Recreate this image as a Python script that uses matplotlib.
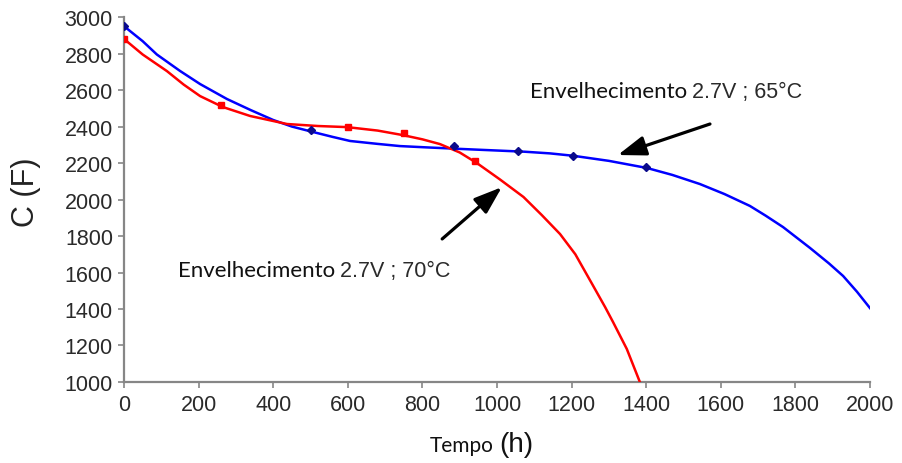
import matplotlib
matplotlib.use("Agg")
import matplotlib.pyplot as plt

# Measured points
blue_t = [0, 500, 885, 1055, 1205, 1400]
blue_c = [2950, 2380, 2295, 2268, 2238, 2180]
red_t = [0, 260, 600, 750, 940]
red_c = [2880, 2520, 2400, 2365, 2210]

# Trend curves
blue_curve_t = [0, 50, 88, 150, 204, 276, 340, 400, 450, 507, 560, 606, 680, 740, 810, 874, 940,
                1008, 1075, 1142, 1204, 1300, 1402, 1470, 1544, 1610, 1678, 1720, 1767, 1839, 1890,
                1928, 1965, 2000]
blue_curve_c = [2950, 2868, 2795, 2705, 2633, 2551, 2490, 2436, 2400, 2370, 2343, 2321, 2305, 2293,
                2286, 2280, 2274, 2268, 2262, 2253, 2240, 2212, 2173, 2135, 2085, 2030, 1965, 1912,
                1849, 1735, 1650, 1581, 1495, 1405]
red_curve_t = [0, 50, 115, 160, 204, 265, 338, 437, 520, 598, 680, 748, 800, 847, 900, 946, 1008,
               1071, 1120, 1169, 1210, 1257, 1290, 1311, 1348, 1383]
red_curve_c = [2880, 2795, 2704, 2630, 2567, 2507, 2458, 2414, 2403, 2397, 2378, 2353, 2330, 2304,
               2258, 2200, 2110, 2014, 1915, 1811, 1700, 1530, 1410, 1329, 1181, 1000]

x_ticks = list(range(0, 2001, 200))
y_ticks = list(range(1000, 3001, 200))

label_65 = ('Envelhecimento', '2.7V ; 65°C')
label_70 = ('Envelhecimento', '2.7V ; 70°C')

fig = plt.figure(figsize=(9.02, 4.64), dpi=100)
ax = fig.add_axes([0.1375, 0.1746, 0.827, 0.7864])

ax.plot(blue_curve_t, blue_curve_c, color='#0000ff', lw=1.8, zorder=3, solid_joinstyle='round')
ax.plot(red_curve_t, red_curve_c, color='#ff0000', lw=1.8, zorder=3, solid_joinstyle='round')
ax.plot(blue_t, blue_c, linestyle='none', marker='D', ms=4.5, color='#0a0a8c', zorder=4)
ax.plot(red_t, red_c, linestyle='none', marker='s', ms=4.5, color='#ff0000', zorder=4)

ax.set_xlim(0, 2000)
ax.set_ylim(1000, 3000)
ax.set_xticks(x_ticks)
ax.set_yticks(y_ticks)
ax.set_xticklabels([str(v) for v in x_ticks], fontfamily='Liberation Sans', fontsize=15.5, color='#2a2a2a')
ax.set_yticklabels([str(v) for v in y_ticks], fontfamily='Liberation Sans', fontsize=15.5, color='#2a2a2a')
for s in ['top', 'right']:
    ax.spines[s].set_visible(False)
for s in ['left', 'bottom']:
    ax.spines[s].set_color('#868686')
    ax.spines[s].set_linewidth(1.6)
    ax.spines[s].set_clip_on(False)
ax.tick_params(axis='both', direction='out', length=4, width=1.2, color='#868686')
ax.tick_params(axis='x', pad=5)
ax.tick_params(axis='y', pad=4)

fig.text(26/902, 1 - 192/464, 'C (F)', rotation=90, ha='center', va='center',
         fontsize=22, fontfamily='Liberation Sans', color='#222222')

fig.canvas.draw()
renderer = fig.canvas.get_renderer()

# Axis title "Tempo (h)"
t_tempo = fig.text(430/902, 1 - 452/464, 'Tempo', ha='left', va='baseline',
                   fontsize=15, fontfamily='Lato', color='#111111')
ext = t_tempo.get_window_extent(renderer)
fig.text((ext.x1 + 5) / 902, 1 - 452/464, '(h)', ha='left', va='baseline',
         fontsize=20, fontfamily='Liberation Sans', color='#111111')

def two_part(x, y, parts):
    t1 = ax.text(x, y, parts[0], ha='left', va='baseline', fontsize=16,
                 fontfamily='Lato', color='#111111')
    e = t1.get_window_extent(renderer)
    px, py = ax.transData.transform((x, y))
    x2 = ax.transData.inverted().transform((e.x1 + 5, py))[0]
    ax.text(x2, y, parts[1], ha='left', va='baseline', fontsize=15.5,
            fontfamily='Liberation Sans', color='#2a2a2a')

two_part(1088, 2562, label_65)
two_part(145, 1581, label_70)

arrow = dict(arrowstyle='-|>,head_length=1.7,head_width=0.6', color='black', lw=2.3,
             shrinkA=0, shrinkB=0)
ax.annotate('', xy=(1324, 2244), xytext=(1571, 2414), arrowprops=arrow)
ax.annotate('', xy=(1013, 2068), xytext=(853, 1784), arrowprops=arrow)

fig.savefig('out.png', dpi=100)
